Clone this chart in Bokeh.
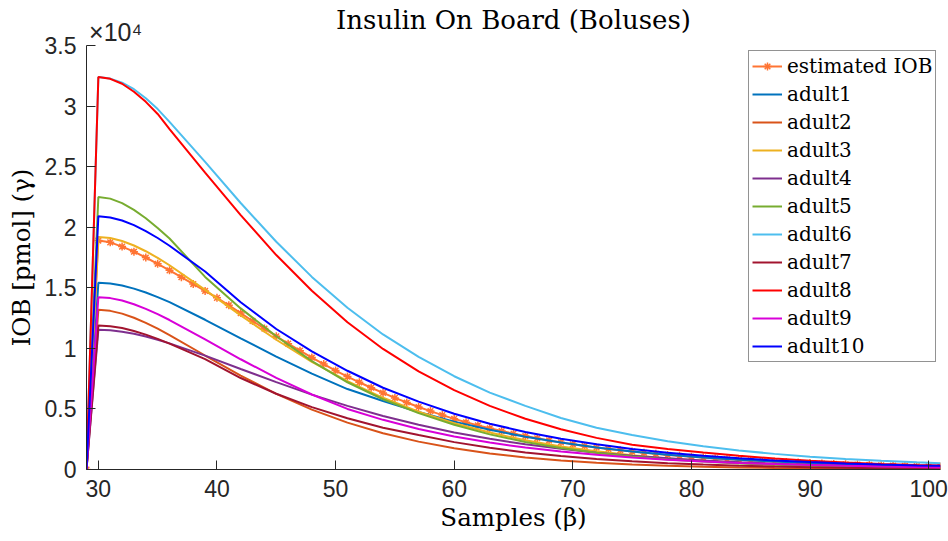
from bokeh.plotting import figure
from bokeh.models import Range1d, FixedTicker, Legend, LegendItem, LinearAxis
from bokeh.embed import file_html
from bokeh.resources import INLINE

# ---------------- data ----------------
x_est = list(range(29, 102))
est_iob = [0,
           18900, 18750, 18400, 17980, 17500, 16980, 16440, 15880, 15310, 14740,
           14170, 13560, 12910, 12260, 11630, 11000, 10390, 9810, 9240, 8700,
           8170, 7670, 7200, 6750, 6320, 5910, 5530, 5160, 4820, 4490,
           4180, 3900, 3640, 3400, 3170, 2960, 2760, 2580, 2400, 2240,
           2080, 1943, 1815, 1695, 1583, 1479, 1381, 1290, 1205, 1125,
           1051, 982, 917, 856, 800, 747, 698, 652, 609, 568,
           531, 496, 463, 433, 404, 377, 352, 329, 307, 287,
           268, 250]

x_adult = [29, 30, 31, 32, 33, 34, 35, 36, 39, 42, 45, 48, 51, 54, 57, 60, 63, 66, 69, 72,
           75, 78, 81, 84, 87, 90, 93, 96, 99, 101]
adult1 = [0, 15410, 15350, 15185, 14930, 14607, 14228, 13810, 12360, 10820, 9320, 7910,
          6640, 5650, 4750, 3950, 3280, 2700, 2220, 1820, 1490, 1220, 990, 800, 650, 530,
          430, 350, 285, 250]
adult2 = [0, 13180, 13095, 12868, 12530, 12106, 11624, 11100, 9410, 7750, 6240, 4940,
          3870, 2990, 2300, 1750, 1330, 1000, 750, 560, 416, 309, 229, 169, 125, 92,
          68, 50, 37, 30]
adult3 = [0, 19200, 19110, 18864, 18490, 18017, 17468, 16860, 14830, 12720, 10710, 8890,
          7290, 5920, 4780, 3820, 3050, 2410, 1900, 1500, 1170, 916, 714, 555, 431, 334,
          259, 200, 155, 130]
adult4 = [0, 11530, 11490, 11375, 11200, 10974, 10710, 10410, 9400, 8300, 7210, 6180,
          5250, 4410, 3690, 3060, 2530, 2080, 1705, 1390, 1130, 919, 743, 600, 483, 389,
          312, 250, 200, 172]
adult5 = [0, 22500, 22360, 21990, 21430, 20740, 19940, 19070, 15900, 13300, 11000, 8950,
          7200, 5800, 4650, 3700, 2900, 2270, 1770, 1380, 1070, 830, 650, 500, 390, 300,
          235, 180, 140, 120]
adult6 = [0, 32400, 32270, 31930, 31390, 30650, 29750, 28700, 25400, 22000, 18800, 15900,
          13350, 11150, 9300, 7700, 6350, 5250, 4250, 3450, 2850, 2330, 1910, 1570, 1290,
          1060, 870, 720, 590, 520]
adult7 = [0, 11890, 11830, 11674, 11430, 11133, 10781, 10390, 9110, 7550, 6250, 5150,
          4230, 3450, 2840, 2260, 1790, 1410, 1107, 865, 673, 523, 405, 313, 242, 186,
          143, 110, 84, 70]
adult8 = [0, 32400, 32250, 31843, 31180, 30350, 29350, 28100, 24500, 21000, 17700, 14750,
          12150, 9950, 8100, 6550, 5250, 4190, 3320, 2610, 2050, 1700, 1400, 1130, 910,
          730, 580, 460, 370, 330]
adult9 = [0, 14220, 14147, 13946, 13640, 13263, 12823, 12340, 10740, 9100, 7560, 6190,
          5000, 4100, 3350, 2730, 2220, 1810, 1480, 1210, 990, 810, 660, 540, 445, 365,
          300, 245, 200, 175]
adult10 = [0, 20900, 20808, 20553, 20170, 19677, 19109, 18470, 16340, 13800, 11600, 9750,
           8150, 6750, 5600, 4600, 3780, 3100, 2540, 2080, 1700, 1390, 1130, 920, 750, 610,
           500, 410, 340, 300]

adult_names = ["adult1", "adult2", "adult3", "adult4", "adult5",
               "adult6", "adult7", "adult8", "adult9", "adult10"]
adult_series = [adult1, adult2, adult3, adult4, adult5, adult6, adult7, adult8, adult9, adult10]
adult_colors = ["#0072BD", "#D95319", "#EDB120", "#7E2F8E", "#77AC30",
                "#4DBEEE", "#A2142F", "#FF0000", "#D800D8", "#0000FF"]
est_color = "#FF7433"

x_ticks = [30, 40, 50, 60, 70, 80, 90, 100]
y_ticks = [0, 5000, 10000, 15000, 20000, 25000, 30000, 35000]
y_tick_labels = ["0", "0.5", "1", "1.5", "2", "2.5", "3", "3.5"]
exponent_text = "\u00d710\u2074"
exponent_pos = 31.46

title_text = "Insulin On Board (Boluses)"
x_label_text = "Samples (\u03b2)"
y_label_text = "IOB [pmol] (\u03b3)"

# ---------------- figure ----------------
SERIF = "DejaVu Serif"
SANS = "Liberation Sans"
AX = "#262626"

p = figure(width=948, height=541, x_range=Range1d(29, 101), y_range=Range1d(0, 35000),
           output_backend="svg", toolbar_location=None,
           min_border_left=86, min_border_right=8, min_border_top=45, min_border_bottom=72)
p.background_fill_color = "white"
p.border_fill_color = "white"
p.outline_line_color = None
p.grid.visible = False

for ax in (p.xaxis[0], p.yaxis[0]):
    ax.axis_line_color = AX
    ax.axis_line_width = 1
    ax.major_tick_line_color = AX
    ax.major_tick_in = 9
    ax.major_tick_out = 0
    ax.minor_tick_line_color = None
    ax.major_label_text_font = SANS
    ax.major_label_text_font_size = "23px"
    ax.major_label_text_color = "#262626"
    ax.major_label_standoff = 10
    ax.axis_label_text_font = SERIF
    ax.axis_label_text_font_size = "24.5px"
    ax.axis_label_text_font_style = "normal"
    ax.axis_label_text_color = "black"

p.xaxis.axis_label = x_label_text
p.xaxis.axis_label_standoff = 3
p.yaxis.axis_label = y_label_text
p.yaxis.axis_label_standoff = 6

p.xaxis.ticker = FixedTicker(ticks=x_ticks)
p.yaxis.ticker = FixedTicker(ticks=y_ticks)
p.yaxis.major_label_overrides = {t: s for t, s in zip(y_ticks, y_tick_labels)}

# top axis carries the exponent note and the title
top = LinearAxis(ticker=FixedTicker(ticks=[exponent_pos]),
                 major_label_overrides={exponent_pos: exponent_text})
top.axis_line_color = None
top.major_tick_line_color = None
top.minor_tick_line_color = None
top.major_tick_in = 0
top.major_tick_out = 0
top.major_label_standoff = 0
top.major_label_text_font = SANS
top.major_label_text_font_size = "25px"
top.major_label_text_color = "#262626"
top.axis_label = title_text
top.axis_label_text_font = SERIF
top.axis_label_text_font_size = "26px"
top.axis_label_text_font_style = "normal"
top.axis_label_text_color = "black"
top.axis_label_standoff = -20
p.add_layout(top, "above")

# estimated IOB (drawn first)
r_est_line = p.line(x_est, est_iob, line_color=est_color, line_width=2)
r_est_mark = p.scatter(x_est, est_iob, marker="asterisk", size=8, line_color=est_color,
                       line_width=1.5)

items = [LegendItem(label="estimated IOB", renderers=[r_est_line, r_est_mark])]
for name, ys, c in zip(adult_names, adult_series, adult_colors):
    r = p.line(x_adult, ys, line_color=c, line_width=2)
    items.append(LegendItem(label=name, renderers=[r]))

legend = Legend(items=items, location=(662, 107))
legend.border_line_color = AX
legend.border_line_width = 1
legend.background_fill_color = "white"
legend.background_fill_alpha = 1
legend.padding = 3
legend.spacing = 4
legend.margin = 0
legend.glyph_width = 30
legend.glyph_height = 20
legend.label_height = 20
legend.label_standoff = 5
legend.label_text_font = SERIF
legend.label_text_font_size = "20px"
legend.label_text_color = "black"
p.add_layout(legend)

open("out.html", "w").write(file_html(p, INLINE))
